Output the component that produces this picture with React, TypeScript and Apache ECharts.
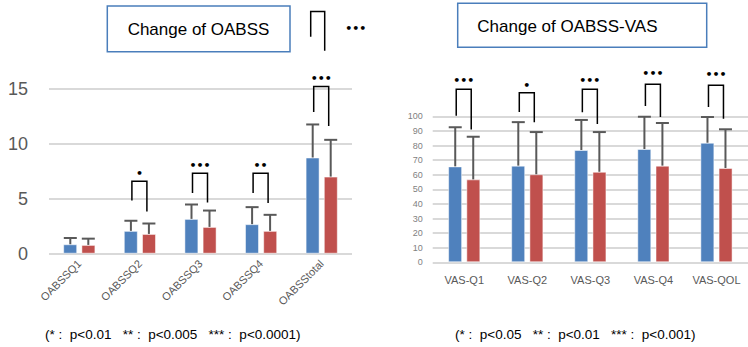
import React, { useEffect, useRef } from "react";
import * as echarts from "echarts";

// ---------- data ----------
const leftCategories = ["OABSSQ1", "OABSSQ2", "OABSSQ3", "OABSSQ4", "OABSStotal"];
const leftBlue = [0.86, 2.08, 3.17, 2.69, 8.76];
const leftBlueSD = [0.57, 0.92, 1.31, 1.55, 3.01];
const leftRed = [0.8, 1.8, 2.44, 2.08, 7.02];
const leftRedSD = [0.57, 0.95, 1.49, 1.46, 3.35];
// [category index, left leg bottom, right leg bottom, bracket top, marker y]
const leftBrackets = [
  [1, 4.85, 3.84, 6.59, 7.26],
  [2, 5.53, 4.67, 7.32, 8.02],
  [3, 5.53, 4.61, 7.32, 8.02],
  [4, 12.9, 11.62, 15.22, 16.0],
  [4, 19.76, 18.48, 22.05, 20.47],
];
const leftMarks = ["•", "•••", "••", "•••", "•••"];

const rightCategories = ["VAS-Q1", "VAS-Q2", "VAS-Q3", "VAS-Q4", "VAS-QOL"];
const rightBlue = [65.7, 66.2, 76.9, 77.6, 81.9];
const rightBlueSD = [26.8, 29.8, 20.6, 22.1, 17.6];
const rightRed = [56.8, 60.3, 62.0, 66.2, 64.6];
const rightRedSD = [29.2, 28.9, 27.2, 29.2, 26.5];
const rightBrackets = [
  [0, 100.4, 91, 118.5, 124.4],
  [1, 103, 96, 116.2, 121.4],
  [2, 102.7, 94.7, 118.5, 124.4],
  [3, 107, 99.5, 122, 129],
  [4, 106.4, 98.4, 121.2, 128.3],
];
const rightMarks = ["•••", "•", "•••", "•••", "•••"];

const leftTitle = "Change of OABSS";
const rightTitle = "Change of OABSS-VAS";
const leftNote = "(* :  p<0.01   ** :  p<0.005   *** :  p<0.0001)";
const rightNote = "(* :  p<0.05   ** :  p<0.01   *** :  p<0.001)";

// ---------- styles ----------
const BLUE = "#4f81bd";
const RED = "#c0504d";
const GRID = "#d9d9d9";
const ERR = "#595959";
const FONT = "'Liberation Sans', Arial, sans-serif";
const BAR_OFF = 9;

// per-bracket pixel shifts (legs / marker), only the stray top bracket is shifted
const leftBracketShift = [
  [0, 0, 0],
  [0, 0, 0],
  [0, 0, 0],
  [0, 0, 0],
  [-3, -4, 38],
];

function errorSeries(vals: number[], sds: number[], off: number, axis: number) {
  return {
    type: "custom",
    xAxisIndex: axis,
    yAxisIndex: axis,
    clip: false,
    z: 5,
    silent: true,
    data: vals.map((v, i) => [i, v, v + sds[i]]),
    renderItem: (params: any, api: any) => {
      const i = api.value(0);
      const p0 = api.coord([i, api.value(1)]);
      const p1 = api.coord([i, api.value(2)]);
      const x = p0[0] + off;
      return {
        type: "group",
        children: [
          { type: "line", shape: { x1: x, y1: p0[1], x2: x, y2: p1[1] }, style: { stroke: ERR, lineWidth: 2 } },
          { type: "line", shape: { x1: x - 6.5, y1: p1[1], x2: x + 6.5, y2: p1[1] }, style: { stroke: ERR, lineWidth: 2 } },
        ],
      };
    },
  };
}

function bracketSeries(br: number[][], marks: string[], axis: number, shifts?: number[][]) {
  return {
    type: "custom",
    xAxisIndex: axis,
    yAxisIndex: axis,
    clip: false,
    z: 6,
    silent: true,
    data: br,
    renderItem: (params: any, api: any) => {
      const idx = params.dataIndex;
      const sh = shifts ? shifts[idx] : [0, 0, 0];
      const i = api.value(0);
      const pl = api.coord([i, api.value(1)]);
      const pr = api.coord([i, api.value(2)]);
      const pt = api.coord([i, api.value(3)]);
      const pm = api.coord([i, api.value(4)]);
      const xl = pl[0] - 8 + sh[0];
      const xr = pl[0] + 7 + sh[1];
      return {
        type: "group",
        children: [
          {
            type: "polyline",
            shape: { points: [[xl, pl[1]], [xl, pt[1]], [xr, pt[1]], [xr, pr[1]]] },
            style: { stroke: "#000", lineWidth: 1.5, fill: "none" },
          },
          {
            type: "text",
            x: (xl + xr) / 2 + sh[2],
            y: pm[1],
            style: {
              text: marks[idx],
              fill: "#000",
              font: "bold 11px 'DejaVu Sans'",
              align: "center",
              verticalAlign: "middle",
              textAlign: "center",
              textVerticalAlign: "middle",
            },
          },
        ],
      };
    },
  };
}

export default function App() {
  const ref = useRef<HTMLDivElement>(null);
  useEffect(() => {
    if (!ref.current) return;
    const chart = echarts.init(ref.current, undefined, { renderer: "svg" });
    const barStyle = (c: string) => ({ color: c, borderColor: "rgba(255,255,255,0.5)", borderWidth: 1 });
    chart.setOption({
      animation: false,
      backgroundColor: "#fff",
      grid: [
        { left: 49, right: 396, top: 89, bottom: 93.3, containLabel: false },
        { left: 432.7, right: 0, top: 116.3, bottom: 84.7, containLabel: false },
      ],
      xAxis: [
        {
          type: "category",
          gridIndex: 0,
          data: leftCategories,
          axisLine: { show: false },
          axisTick: { show: false },
          axisLabel: { rotate: 45, color: "#595959", fontSize: 11, fontFamily: FONT, margin: 8 },
        },
        {
          type: "category",
          gridIndex: 1,
          data: rightCategories,
          axisLine: { show: false },
          axisTick: { show: false },
          axisLabel: { color: "#595959", fontSize: 11, fontFamily: FONT, margin: 12 },
        },
      ],
      yAxis: [
        {
          type: "value",
          gridIndex: 0,
          min: 0,
          max: 15,
          interval: 5,
          axisLine: { show: false },
          axisTick: { show: false },
          axisLabel: { color: "#595959", fontSize: 18, fontFamily: FONT, margin: 21 },
          splitLine: { lineStyle: { color: GRID, width: 2 } },
        },
        {
          type: "value",
          gridIndex: 1,
          min: 0,
          max: 100,
          interval: 10,
          axisLine: { show: false },
          axisTick: { show: false },
          axisLabel: { color: "#7f7f7f", fontSize: 9, fontFamily: FONT, margin: 10 },
          splitLine: { lineStyle: { color: GRID, width: 2 } },
        },
      ],
      series: [
        { type: "bar", xAxisIndex: 0, yAxisIndex: 0, data: leftBlue, barWidth: 14, barGap: "30%", itemStyle: barStyle(BLUE) },
        { type: "bar", xAxisIndex: 0, yAxisIndex: 0, data: leftRed, barWidth: 14, barGap: "30%", itemStyle: barStyle(RED) },
        { type: "bar", xAxisIndex: 1, yAxisIndex: 1, data: rightBlue, barWidth: 14, barGap: "30%", itemStyle: barStyle(BLUE) },
        { type: "bar", xAxisIndex: 1, yAxisIndex: 1, data: rightRed, barWidth: 14, barGap: "30%", itemStyle: barStyle(RED) },
        errorSeries(leftBlue, leftBlueSD, -BAR_OFF, 0),
        errorSeries(leftRed, leftRedSD, BAR_OFF, 0),
        errorSeries(rightBlue, rightBlueSD, -BAR_OFF, 1),
        errorSeries(rightRed, rightRedSD, BAR_OFF, 1),
        bracketSeries(leftBrackets, leftMarks, 0, leftBracketShift),
        bracketSeries(rightBrackets, rightMarks, 1),
      ],
      graphic: [
        {
          type: "rect",
          shape: { x: 107.3, y: 6, width: 182.7, height: 45.7 },
          style: { fill: "#fff", stroke: "#4a7ebb", lineWidth: 1.5 },
          z: 10,
        },
        {
          type: "text",
          x: 198.5,
          y: 29.5,
          style: { text: leftTitle, font: `17px ${FONT}`, fill: "#000", align: "center", verticalAlign: "middle" },
          z: 11,
        },
        {
          type: "rect",
          shape: { x: 457.7, y: 3.3, width: 249, height: 44 },
          style: { fill: "#fff", stroke: "#4a7ebb", lineWidth: 1.5 },
          z: 10,
        },
        {
          type: "text",
          x: 477.3,
          y: 26,
          style: { text: rightTitle, font: `17px ${FONT}`, fill: "#000", align: "left", verticalAlign: "middle" },
          z: 11,
        },
        {
          type: "text",
          x: 45,
          y: 334,
          style: { text: leftNote, font: `13.5px ${FONT}`, fill: "#000", align: "left", verticalAlign: "middle" },
        },
        {
          type: "text",
          x: 455,
          y: 334,
          style: { text: rightNote, font: `13.5px ${FONT}`, fill: "#000", align: "left", verticalAlign: "middle" },
        },
      ],
    });
    return () => chart.dispose();
  }, []);
  return <div ref={ref} style={{ position: "fixed", left: 0, top: 0, width: 748, height: 347 }} />;
}
